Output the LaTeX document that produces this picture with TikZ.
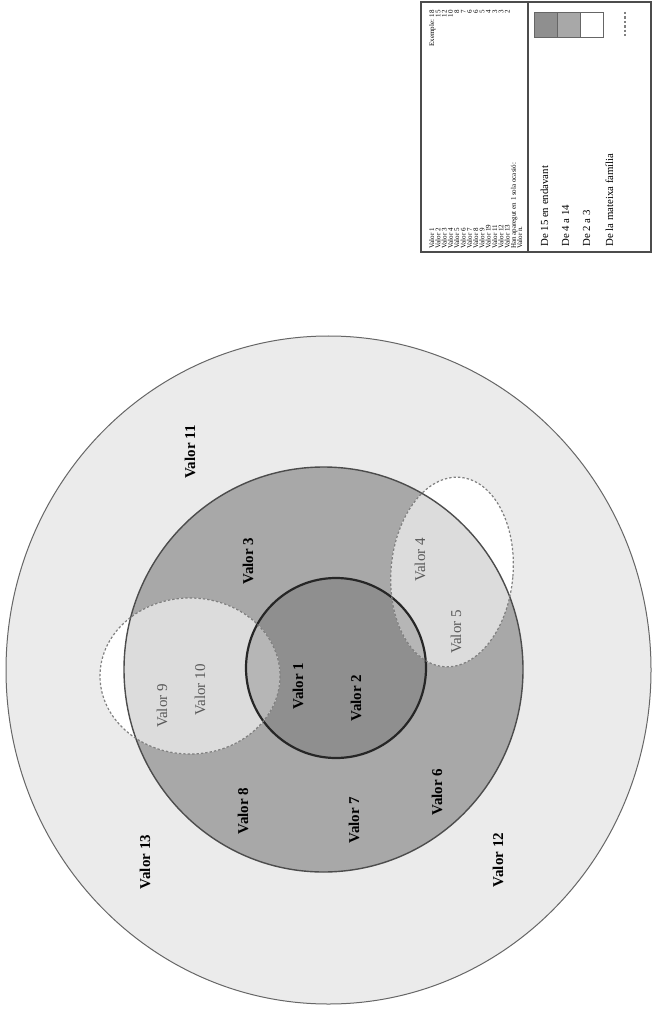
\documentclass[tikz,border=0pt]{standalone}
\usepackage{fontspec}
\setmainfont{Liberation Serif}
\definecolor{ringlight}{HTML}{EBEBEB}
\definecolor{ringmid}{HTML}{A8A8A8}
\definecolor{ringdark}{HTML}{8F8F8F}
\definecolor{famfill}{HTML}{DCDCDC}
\definecolor{famcore}{HTML}{B6B6B6}
\pgfkeys{tikz/lbl/.style={rotate=90,inner sep=0pt,font=\fontsize{7.5}{9}\selectfont\bfseries}}
\pgfkeys{tikz/lblfam/.style={rotate=90,inner sep=0pt,font=\fontsize{7.5}{9}\selectfont,text=black!65}}
\pgfkeys{tikz/famline/.style={draw=black!50,line width=0.6pt,dash pattern=on 1.2pt off 1pt}}
\pgfkeys{tikz/legrow/.style={rotate=90,inner sep=0pt,font=\fontsize{3.5}{4}\selectfont}}
\pgfkeys{tikz/legkey/.style={rotate=90,inner sep=0pt,anchor=base west,font=\fontsize{5.4}{6}\selectfont}}
\newcommand*\outerring{(328.5,670) ellipse [x radius=322.5, y radius=334]}
\newcommand*\midring{(323.5,669.5) ellipse [x radius=199.5, y radius=202.5]}
\newcommand*\corering{(336,668) circle [radius=90]}
\newcommand*\famleft{(190,676) ellipse [x radius=90, y radius=78]}
\newcommand*\famright{(452,572) ellipse [x radius=61, y radius=95, rotate=-5]}
\newcommand*\famarea[1]{%
  \begin{scope}
    \clip #1;
    \fill[white] #1;
    \fill[famfill] \midring;
    \fill[famcore] \corering;
  \end{scope}%
}
\begin{document}
\begin{tikzpicture}[x=0.5pt,y=-0.5pt]
\path[use as bounding box,fill=white] (0,0) rectangle (655,1015);

% rings
\fill[ringlight] \outerring;
\draw[black!60,line width=0.5pt] \outerring;
\fill[ringmid] \midring;
\fill[ringdark] \corering;

% families
\famarea{\famleft}
\famarea{\famright}
\draw[black!70,line width=0.7pt] \midring;
\draw[black!85,line width=1.1pt] \corering;
\draw[famline] \famleft;
\draw[famline] \famright;

\node[lbl] (v11) at (190,452) {Valor 11};
\node[lbl] (v3) at (248,561) {Valor 3};
\node[lblfam] (v4) at (420,560) {Valor 4};
\node[lblfam] (v5) at (456,632) {Valor 5};
\node[lblfam] (v9) at (162,706) {Valor 9};
\node[lblfam] (v10) at (200,690) {Valor 10};
\node[lbl] (v1) at (298,686) {Valor 1};
\node[lbl] (v2) at (356,698) {Valor 2};
\node[lbl] (v8) at (243,811) {Valor 8};
\node[lbl] (v7) at (354,820) {Valor 7};
\node[lbl] (v6) at (437,792) {Valor 6};
\node[lbl] (v12) at (498,860) {Valor 12};
\node[lbl] (v13) at (145,862) {Valor 13};

% legend
\draw[black!70,line width=0.6pt] (421,2) rectangle (651,252);
\draw[black!70,line width=0.6pt] (528,2) -- (528,252);
\foreach \i/\t/\n in {0/Valor 1/Exemple: 18, 1/Valor 2/15, 2/Valor 3/12, 3/Valor 4/10,
    4/Valor 5/8, 5/Valor 6/7, 6/Valor 7/6, 7/Valor 8/6, 8/Valor 9/5, 9/Valor 19/4,
    10/Valor 11/3, 11/Valor 12/3, 12/Valor 13/2, 13/Han aparegut en 1 sola ocasió:/, 14/Valor n./} {
  \node[legrow,anchor=base west] (row\i) at (434+6.3*\i,249) {\t};
  \node[legrow,anchor=base east] (num\i) at (434+6.3*\i,10) {\n};
}
\node[legkey] (k1) at (548,247) {De 15 en endavant};
\node[legkey] (k2) at (569,247) {De 4 a 14};
\node[legkey] (k3) at (590,247) {De 2 a 3};
\node[legkey] (k4) at (613,247) {De la mateixa família};
\draw[black!60,fill=ringdark] (534,12) rectangle (557,37);
\draw[black!60,fill=ringmid] (557,12) rectangle (580,37);
\draw[black!60,fill=white] (580,12) rectangle (603,37);
\draw[famline] (625,12) -- (625,37);
\end{tikzpicture}
\end{document}
